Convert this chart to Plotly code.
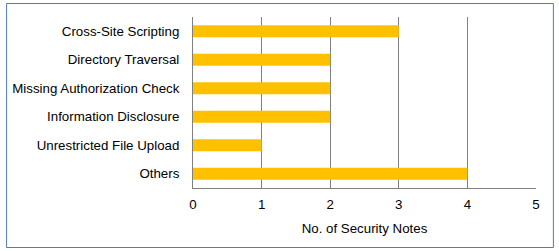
import plotly.graph_objects as go

categories = ["Cross-Site Scripting", "Directory Traversal", "Missing Authorization Check",
              "Information Disclosure", "Unrestricted File Upload", "Others"]
values = [3, 2, 2, 2, 1, 4]
x_ticks = [0, 1, 2, 3, 4, 5]
x_title = "No. of Security Notes"

W, H = 559, 251
L, R, T, B = 191, 23, 17, 63
pw, ph = W - L - R, H - T - B

fig = go.Figure(go.Bar(
    y=categories, x=values, orientation="h",
    marker=dict(color="#FFC000", line=dict(width=0)),
))

def px_x(p):
    return (p - L) / pw

def px_y(p):
    return (H - B - p) / ph

FS = 13.3
fig.update_layout(
    width=W, height=H,
    margin=dict(l=L, r=R, t=T, b=B),
    paper_bgcolor="white", plot_bgcolor="white",
    font=dict(family="Liberation Sans, Arial", size=FS, color="#000000"),
    bargap=0.58,
    showlegend=False,
    xaxis=dict(range=[0, 5], tickvals=x_ticks, showgrid=True, gridcolor="#808080", gridwidth=1,
               zeroline=False, showline=True, linecolor="#808080", linewidth=1,
               ticks="", ticklen=0, ticklabelstandoff=4,
               title=dict(text=x_title, standoff=12, font=dict(size=FS)),
               tickfont=dict(size=FS)),
    yaxis=dict(autorange="reversed", showgrid=False, zeroline=False,
               showline=True, linecolor="#808080", linewidth=1,
               ticks="", ticklabelstandoff=10, tickfont=dict(size=FS)),
    shapes=[dict(type="rect", xref="paper", yref="paper",
                 x0=px_x(3.5), x1=px_x(553.5), y0=px_y(247.5), y1=px_y(3.5),
                 line=dict(color="#4F7DB5", width=1), fillcolor="rgba(0,0,0,0)", layer="below")],
)
fig.write_html("out.html")
